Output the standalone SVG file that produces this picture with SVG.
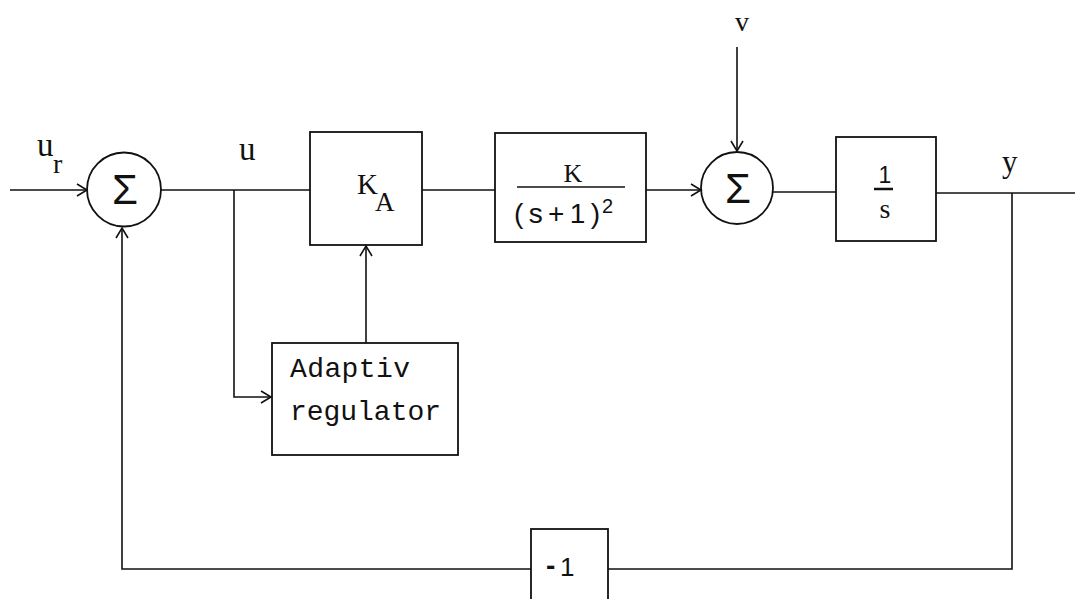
<svg xmlns="http://www.w3.org/2000/svg" width="1077" height="599" viewBox="0 0 1077 599">
<style>
.ln{stroke:#111;stroke-width:1.6;fill:none}
.bx{stroke:#111;stroke-width:1.8;fill:none}
.t{font-family:"Liberation Serif",serif;fill:#111}
.s{font-family:"Liberation Sans",sans-serif;fill:#111}
.m{font-family:"Liberation Mono",monospace;fill:#111}
.sig{font-family:"Liberation Sans",sans-serif;font-size:42px;fill:#111;text-anchor:middle}
</style>
<defs>
<marker id="ar" markerWidth="14" markerHeight="14" refX="11" refY="7" orient="auto" markerUnits="userSpaceOnUse">
<path d="M1,1 L11,7 L1,13" stroke="#111" stroke-width="1.6" fill="none"/>
</marker>
</defs>
<rect width="1077" height="599" fill="#fff"/>
<g id="connectors">
<line class="ln" x1="10" y1="190" x2="87" y2="190" marker-end="url(#ar)"/>
<line class="ln" x1="161" y1="190" x2="310" y2="190"/>
<line class="ln" x1="422" y1="190" x2="495" y2="190"/>
<line class="ln" x1="646" y1="190" x2="701" y2="190" marker-end="url(#ar)"/>
<line class="ln" x1="737" y1="47" x2="737" y2="151" marker-end="url(#ar)"/>
<line class="ln" x1="773" y1="192" x2="836" y2="192"/>
<line class="ln" x1="936" y1="193" x2="1075" y2="193"/>
<polyline class="ln" points="1012,193 1012,569 608,569"/>
<polyline class="ln" points="531,569 122,569 122,228" marker-end="url(#ar)"/>
<polyline class="ln" points="234,190 234,397 271,397" marker-end="url(#ar)"/>
<line class="ln" x1="366" y1="343" x2="366" y2="246" marker-end="url(#ar)"/>
</g>
<g id="sum1">
<circle class="bx" cx="124" cy="189.5" r="37"/>
<text class="sig" x="125" y="204">Σ</text>
</g>
<g id="ka">
<rect class="bx" x="310" y="132" width="112" height="113"/>
<text class="t" x="357" y="194" font-size="29">K</text>
<text class="t" x="375" y="211" font-size="27">A</text>
</g>
<g id="plant">
<rect class="bx" x="495" y="133" width="151" height="109"/>
<text class="t" x="573" y="182" font-size="26" text-anchor="middle">K</text>
<line class="ln" x1="517" y1="187" x2="625" y2="187"/>
<text class="s" x="514" y="223" font-size="28" textLength="86" lengthAdjust="spacing">(s+1)</text>
<text class="s" x="602" y="213" font-size="20">2</text>
</g>
<g id="sum2">
<circle class="bx" cx="737" cy="188" r="36"/>
<text class="sig" x="738" y="203">Σ</text>
</g>
<g id="integ">
<rect class="bx" x="836" y="137" width="100" height="104"/>
<text class="s" x="885" y="183" font-size="23" text-anchor="middle">1</text>
<line x1="874" y1="189" x2="893" y2="189" stroke="#111" stroke-width="2.5"/>
<text class="t" x="885" y="218" font-size="28" text-anchor="middle">s</text>
</g>
<g id="adaptiv">
<rect class="bx" x="272" y="343" width="186" height="112"/>
<text class="m" x="290" y="377" font-size="28" textLength="120" lengthAdjust="spacing">Adaptiv</text>
<text class="m" x="290" y="420" font-size="28" textLength="151" lengthAdjust="spacing">regulator</text>
</g>
<g id="neg">
<rect class="bx" x="531" y="529" width="77" height="80"/>
<text class="s" x="546" y="575" font-size="28" font-weight="bold">-</text>
<text class="s" x="560" y="576" font-size="26">1</text>
</g>
<g id="labels">
<text class="t" x="37" y="156" font-size="33">u</text>
<text class="t" x="53" y="173" font-size="28">r</text>
<text class="t" x="239" y="160" font-size="33">u</text>
<text class="t" x="735" y="31" font-size="28">v</text>
<text class="t" x="1002" y="172" font-size="31">y</text>
</g>
</svg>
